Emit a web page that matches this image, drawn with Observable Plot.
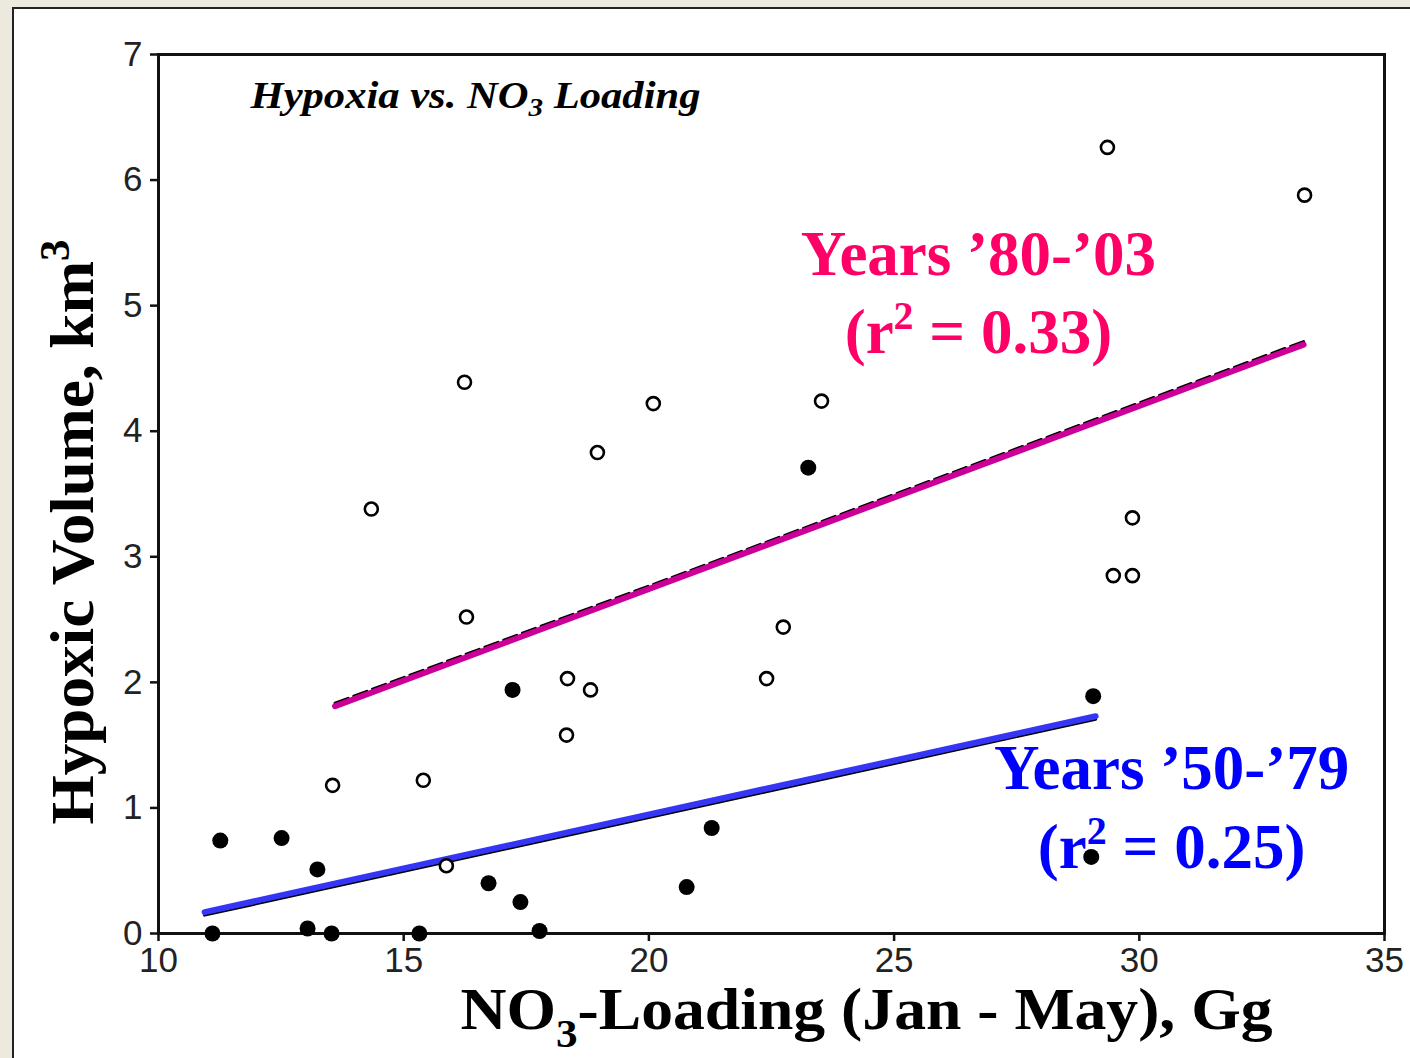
<!DOCTYPE html>
<html><head><meta charset="utf-8">
<script src="https://cdn.jsdelivr.net/npm/d3@7"></script>
<script src="https://cdn.jsdelivr.net/npm/@observablehq/plot@0.6"></script>
<style>
html,body{margin:0;padding:0;background:#ECE9DF;}
#wrap{position:relative;width:1410px;height:1058px;overflow:hidden;background:#ECE9DF;}
#panel{position:absolute;left:12px;top:7px;right:-10px;bottom:-10px;background:#fff;border-left:2px solid #222;border-top:2px solid #222;}
#chart{position:absolute;left:0;top:0;}
</style></head><body><div id="wrap"><div id="panel"></div><div id="chart"></div></div>
<script>
// Tick values
const xTicks = [10, 15, 20, 25, 30, 35];
const yTicks = [0, 1, 2, 3, 4, 5, 6, 7];

// Years 1980-2003 (open circles)
const x80 = [16.24, 14.34, 16.28, 18.95, 20.09, 23.52, 18.34, 18.81, 18.32, 13.55, 15.40, 15.87, 22.40, 22.74, 29.35, 33.37, 29.86, 29.47, 29.86];
const y80 = [4.39, 3.38, 2.52, 3.83, 4.22, 4.24, 2.03, 1.94, 1.58, 1.18, 1.22, 0.54, 2.03, 2.44, 6.26, 5.88, 3.31, 2.85, 2.85];

// Years 1950-1979 (filled circles)
const x50 = [11.26, 12.51, 13.24, 11.10, 13.04, 13.53, 15.32, 16.73, 17.38, 17.77, 17.22, 20.77, 21.28, 23.25, 29.06, 29.02];
const y50 = [0.74, 0.76, 0.51, 0.00, 0.04, 0.00, 0.00, 0.40, 0.25, 0.02, 1.94, 0.37, 0.84, 3.71, 1.89, 0.61];

// Regression line endpoints
const fit80X = [13.6, 33.35];
const fit80Y = [1.81, 4.69];
const fit50X = [10.94, 29.11];
const fit50Y = [0.17, 1.73];

const pts80 = x80.map((x, i) => ({x, y: y80[i]}));
const pts50 = x50.map((x, i) => ({x, y: y50[i]}));
const line80 = fit80X.map((x, i) => ({x, y: fit80Y[i]}));
const line50 = fit50X.map((x, i) => ({x, y: fit50Y[i]}));

const serif = "'Liberation Serif', 'Times New Roman', serif";
const sans = "'Liberation Sans', Arial, sans-serif";

const T_TITLE = "Hypoxia vs. NO3 Loading";
const T_XLAB = "NO3-Loading (Jan - May), Gg";
const T_YLAB = "Hypoxic Volume, km3";
const T_R80 = "(r2 = 0.33)";
const T_R50 = "(r2 = 0.25)";

const chart = Plot.plot({
  width: 1410, height: 1058,
  marginLeft: 158, marginRight: 26, marginTop: 54, marginBottom: 125,
  style: {background: "transparent", fontFamily: sans, overflow: "visible"},
  x: {domain: [10, 35]},
  y: {domain: [0, 7]},
  marks: [
    Plot.axisY(yTicks, {tickSize: 8, tickPadding: 8, fontSize: 35, strokeWidth: 2.5, stroke: "#111", fill: "#222", label: null, tickFormat: d => String(d)}),
    Plot.axisX(xTicks, {tickSize: 8, tickPadding: 6, fontSize: 35, strokeWidth: 2.5, stroke: "#111", fill: "#222", label: null, tickFormat: d => String(d)}),
    Plot.frame({stroke: "#111", strokeWidth: 3}),
    // titles / axis labels
    Plot.text([T_TITLE], {frameAnchor: "top-left", textAnchor: "start", lineAnchor: "middle", dx: 92, dy: 41, fontSize: 38, fontWeight: "bold", fontStyle: "italic", fontFamily: serif, fill: "#000"}),
    Plot.text([T_XLAB], {frameAnchor: "bottom", textAnchor: "middle", lineAnchor: "middle", dx: 95, dy: 77, fontSize: 59, fontWeight: "bold", fontFamily: serif, fill: "#000"}),
    Plot.text([T_YLAB], {frameAnchor: "left", textAnchor: "middle", lineAnchor: "middle", rotate: -90, dx: -85, dy: 38, fontSize: 62, fontWeight: "bold", fontFamily: serif, fill: "#000"}),
    // annotations
    Plot.text(["Years \u201980-\u201903"], {x: [26.72], y: [5.405], fontSize: 63, fontWeight: "bold", fontFamily: serif, fill: "#FF0066"}),
    Plot.text([T_R80], {x: [26.72], y: [4.784], fontSize: 63, fontWeight: "bold", fontFamily: serif, fill: "#FF0066"}),
    Plot.text(["Years \u201950-\u201979"], {x: [30.66], y: [1.315], fontSize: 63, fontWeight: "bold", fontFamily: serif, fill: "#0000FF"}),
    Plot.text([T_R50], {x: [30.66], y: [0.686], fontSize: 63, fontWeight: "bold", fontFamily: serif, fill: "#0000FF"}),
    // regression lines
    Plot.line(line80, {x: "x", y: "y", stroke: "#000", strokeWidth: 3, strokeDasharray: "14,6", dy: -3}),
    Plot.line(line80, {x: "x", y: "y", stroke: "#CC0099", strokeWidth: 6}),
    Plot.line(line50, {x: "x", y: "y", stroke: "#000", strokeWidth: 3, dy: 3}),
    Plot.line(line50, {x: "x", y: "y", stroke: "#3535F5", strokeWidth: 6}),
    // points
    Plot.dot(pts80, {x: "x", y: "y", r: 6.5, stroke: "#000", strokeWidth: 2.6, fill: "#fff"}),
    Plot.dot(pts50, {x: "x", y: "y", r: 8, fill: "#000", stroke: "none"})
  ]
});
document.getElementById("chart").appendChild(chart);

// Rich text: sub/superscripts
const svg = d3.select(chart);
function rich(str, html, len) {
  svg.selectAll("text").filter(function() { return this.textContent === str; }).each(function() {
    this.innerHTML = html;
    if (len) { this.setAttribute("textLength", len); this.setAttribute("lengthAdjust", "spacingAndGlyphs"); }
  });
}
rich(T_TITLE, 'Hypoxia vs. NO<tspan font-size="26" dy="8">3</tspan><tspan dy="-8"> Loading</tspan>', 450);
rich(T_XLAB, 'NO<tspan font-size="40" dy="18">3</tspan><tspan dy="-18">-Loading (Jan - May), Gg</tspan>', 812);
rich(T_YLAB, 'Hypoxic Volume, km<tspan font-size="42" dy="-24">3</tspan>', 585);
rich(T_R80, '(r<tspan font-size="40" dy="-24">2</tspan><tspan dy="24"> = 0.33)</tspan>');
rich(T_R50, '(r<tspan font-size="40" dy="-24">2</tspan><tspan dy="24"> = 0.25)</tspan>');
</script></body></html>
